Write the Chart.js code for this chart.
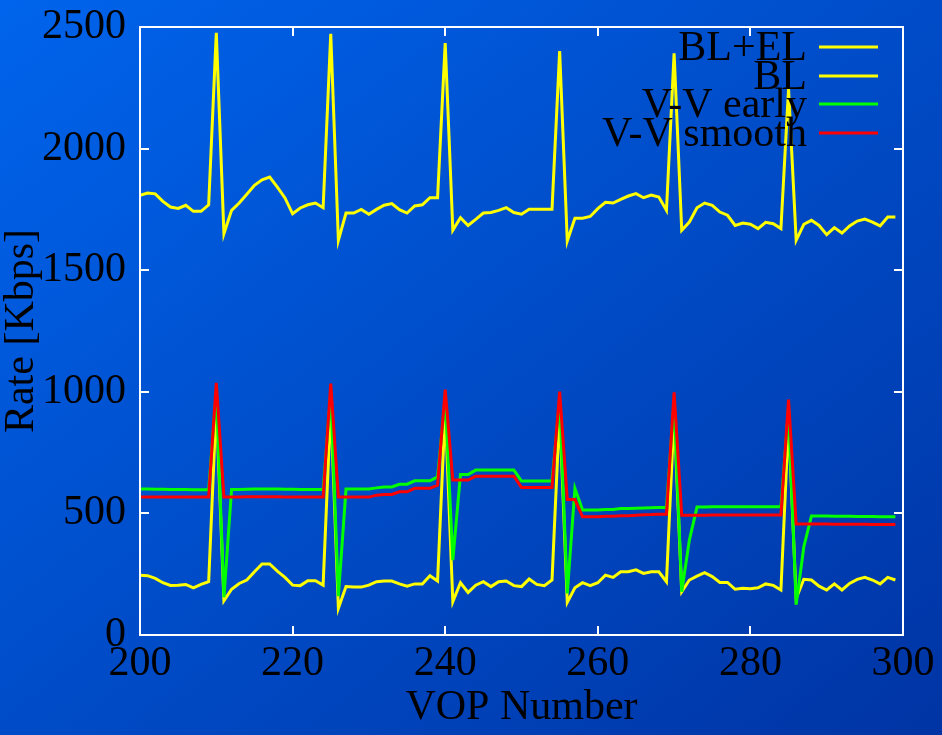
<!DOCTYPE html>
<html>
<head>
<meta charset="utf-8">
<script src="https://cdn.jsdelivr.net/npm/chart.js@4/dist/chart.umd.min.js"></script>
<style>
  html, body { margin: 0; padding: 0; }
  body { width: 942px; height: 735px; overflow: hidden;
         background: linear-gradient(to bottom right, #0064ec, #0034a4); }
  #wrap { width: 942px; height: 735px; }
</style>
</head>
<body>
<div id="wrap"><canvas id="c" width="942" height="735"></canvas></div>
<script>
const vop = [200,201,202,203,204,205,206,207,208,209,210,211,212,213,214,215,216,217,218,219,
  220,221,222,223,224,225,226,227,228,229,230,231,232,233,234,235,236,237,238,239,
  240,241,242,243,244,245,246,247,248,249,250,251,252,253,254,255,256,257,258,259,
  260,261,262,263,264,265,266,267,268,269,270,271,272,273,274,275,276,277,278,279,
  280,281,282,283,284,285,286,287,288,289,290,291,292,293,294,295,296,297,298,299];

const blEl = [1808,1817,1814,1783,1760,1754,1767,1742,1742,1769,
  2476,1650,1746,1776,1812,1849,1872,1883,1842,1797,
  1732,1756,1769,1776,1757,2472,1623,1735,1735,1750,
  1730,1750,1767,1774,1749,1735,1764,1769,1798,1798,
  2434,1664,1716,1684,1709,1735,1737,1746,1757,1737,
  1730,1751,1751,1751,1751,2401,1620,1714,1714,1721,
  1753,1779,1776,1791,1805,1815,1798,1809,1801,1746,
  2392,1664,1698,1757,1776,1767,1739,1726,1684,1694,
  1689,1671,1697,1691,1671,2245,1623,1689,1705,1684,
  1646,1675,1653,1682,1702,1710,1698,1682,1719,1719];

const bl = [246,244,233,215,204,205,208,194,208,219,
  950,141,188,212,226,260,292,292,263,237,
  205,203,223,223,205,945,110,199,197,197,
  205,219,222,222,210,201,210,210,244,222,
  930,137,215,175,205,219,199,219,222,203,
  199,230,208,203,226,920,134,194,215,203,
  215,246,237,260,260,268,253,260,260,219,
  910,178,226,242,256,240,216,216,188,192,
  190,194,210,204,185,880,150,229,226,201,
  185,210,185,212,229,237,226,210,237,226];

const vvEarly = [600,600,599,599,598,598,598,597,597,597,
  1000,155,598,598,599,600,600,600,600,599,
  599,598,598,598,598,995,160,600,600,600,
  600,605,609,609,620,620,634,634,634,650,
  975,308,660,660,678,678,678,678,678,678,
  633,633,633,633,633,965,171,603,514,514,
  514,516,516,520,520,521,522,523,524,524,
  960,178,390,526,526,527,527,527,527,527,
  527,527,527,527,527,930,125,363,489,489,
  489,488,488,488,487,487,487,486,486,486];

const vvSmooth = [567,567,567,567,567,567,567,567,567,567,
  1037,567,567,567,568,568,568,568,568,567,
  567,567,567,567,567,1034,567,567,567,567,
  567,575,578,578,589,589,603,603,603,616,
  1009,637,637,637,653,653,653,653,653,653,
  607,607,607,607,607,1001,557,557,486,486,
  486,488,488,490,490,492,494,495,497,497,
  998,492,492,492,492,493,493,493,493,493,
  493,493,493,493,493,968,456,456,456,456,
  456,455,455,455,455,455,454,454,454,454];

const seriesNames = ['BL+EL', 'BL', 'V-V early', 'V-V smooth'];
const seriesColors = ['#ffff00', '#ffff00', '#00ff00', '#ff0000'];
const yTicks = [0, 500, 1000, 1500, 2000, 2500];
const xTicks = [200, 220, 240, 260, 280, 300];

const FONT = '"Liberation Serif", "Times New Roman", serif';

function pts(vals) { return vals.map((v, i) => ({ x: vop[i], y: v })); }

const frame = {
  id: 'frame',
  afterDraw(chart) {
    const { ctx, chartArea: a, scales } = chart;
    ctx.save();
    ctx.strokeStyle = '#ffffff';
    ctx.lineWidth = 2;
    const tl = 9;
    ctx.beginPath();
    yTicks.forEach(v => {
      const y = Math.round(scales.y.getPixelForValue(v));
      ctx.moveTo(a.left, y); ctx.lineTo(a.left + tl, y);
      ctx.moveTo(a.right, y); ctx.lineTo(a.right - tl, y);
    });
    xTicks.forEach(v => {
      const x = Math.round(scales.x.getPixelForValue(v));
      ctx.moveTo(x, a.bottom); ctx.lineTo(x, a.bottom - tl);
      ctx.moveTo(x, a.top); ctx.lineTo(x, a.top + tl);
    });
    ctx.stroke();
    ctx.strokeRect(a.left, a.top, a.right - a.left, a.bottom - a.top);
    // legend
    ctx.font = '42px ' + FONT;
    ctx.textAlign = 'right';
    ctx.textBaseline = 'middle';
    ctx.fillStyle = '#000000';
    const ys = [47, 76, 104, 133];
    seriesNames.forEach((n, i) => {
      ctx.fillText(n, 807, ys[i] + 2);
      ctx.strokeStyle = seriesColors[i];
      ctx.lineWidth = 3;
      ctx.beginPath();
      ctx.moveTo(819, ys[i]); ctx.lineTo(878, ys[i]);
      ctx.stroke();
    });
    ctx.restore();
  }
};

const ds = (label, data, color) => ({
  label, data: pts(data), borderColor: color, backgroundColor: color,
  borderWidth: 3, pointRadius: 0, tension: 0, fill: false
});

new Chart(document.getElementById('c'), {
  type: 'line',
  data: {
    datasets: [
      ds('V-V smooth', vvSmooth, seriesColors[3]),
      ds('V-V early', vvEarly, seriesColors[2]),
      ds('BL', bl, seriesColors[1]),
      ds('BL+EL', blEl, seriesColors[0])
    ]
  },
  options: {
    responsive: false,
    animation: false,
    layout: { padding: { left: 0, top: 27, right: 39, bottom: 0 } },
    plugins: { legend: { display: false }, tooltip: { enabled: false } },
    scales: {
      x: {
        type: 'linear', min: 200, max: 300,
        afterBuildTicks: s => { s.ticks = xTicks.map(v => ({ value: v })); },
        afterFit: s => { s.height = 100; s.paddingLeft = 0; s.paddingRight = 0; },
        grid: { display: false, drawTicks: false },
        border: { display: false },
        ticks: { color: '#000', font: { family: FONT, size: 42 }, padding: 4, maxRotation: 0, autoSkip: false,
                 callback: v => String(v) },
        title: { display: true, text: 'VOP Number', color: '#000',
                 font: { family: FONT, size: 42, lineHeight: 1 }, padding: { top: 0, bottom: 6 } }
      },
      y: {
        type: 'linear', min: 0, max: 2500,
        afterBuildTicks: s => { s.ticks = yTicks.map(v => ({ value: v })); },
        afterFit: s => { s.width = 140; s.paddingTop = 0; s.paddingBottom = 0; },
        grid: { display: false, drawTicks: false },
        border: { display: false },
        ticks: { color: '#000', font: { family: FONT, size: 42 }, padding: 14, autoSkip: false,
                 callback: v => String(v) },
        title: { display: true, text: 'Rate [Kbps]', color: '#000',
                 font: { family: FONT, size: 42, lineHeight: 1 }, padding: { top: 1, bottom: 0 } }
      }
    }
  },
  plugins: [frame]
});
</script>
</body>
</html>
